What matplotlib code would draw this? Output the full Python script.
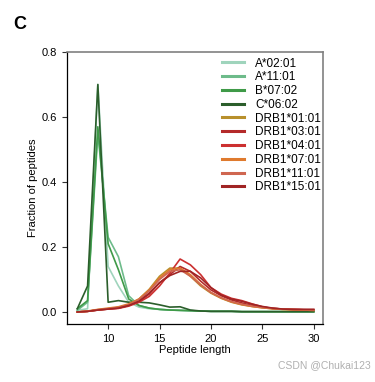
import matplotlib
matplotlib.use("Agg")
import matplotlib.pyplot as plt

plt.rcParams['font.family'] = ['Liberation Sans', 'DejaVu Sans']

lengths = list(range(7, 31))

series_names = ["A*02:01", "A*11:01", "B*07:02", "C*06:02",
                "DRB1*01:01", "DRB1*03:01", "DRB1*04:01", "DRB1*07:01",
                "DRB1*11:01", "DRB1*15:01"]

a0201 = [0.005, 0.01, 0.70, 0.14, 0.08, 0.03, 0.015, 0.01, 0.008, 0.006, 0.005, 0.004, 0.003, 0.002,
         0.002, 0.002, 0.001, 0.001, 0.001, 0.001, 0.001, 0.001, 0.001, 0.001]
a1101 = [0.005, 0.03, 0.55, 0.23, 0.17, 0.05, 0.02, 0.012, 0.008, 0.006, 0.005, 0.004, 0.003, 0.002,
         0.002, 0.002, 0.001, 0.001, 0.001, 0.001, 0.001, 0.001, 0.001, 0.001]
b0702 = [0.01, 0.035, 0.57, 0.21, 0.13, 0.04, 0.02, 0.012, 0.008, 0.006, 0.005, 0.004, 0.003, 0.002,
         0.002, 0.002, 0.001, 0.001, 0.001, 0.001, 0.001, 0.001, 0.001, 0.001]
c0602 = [0.01, 0.08, 0.70, 0.03, 0.035, 0.03, 0.03, 0.028, 0.022, 0.015, 0.016, 0.006, 0.003, 0.002,
         0.002, 0.002, 0.001, 0.001, 0.001, 0.001, 0.001, 0.001, 0.001, 0.001]
drb0101 = [0.0, 0.002, 0.007, 0.01, 0.014, 0.022, 0.04, 0.07, 0.11, 0.135, 0.135, 0.11, 0.08, 0.058,
           0.042, 0.03, 0.022, 0.017, 0.013, 0.01, 0.008, 0.007, 0.006, 0.005]
drb0301 = [0.0, 0.002, 0.006, 0.009, 0.012, 0.02, 0.032, 0.055, 0.09, 0.115, 0.14, 0.125, 0.095, 0.068,
           0.05, 0.037, 0.028, 0.02, 0.015, 0.011, 0.009, 0.008, 0.007, 0.007]
drb0401 = [0.0, 0.002, 0.006, 0.009, 0.011, 0.018, 0.03, 0.048, 0.08, 0.12, 0.163, 0.145, 0.115, 0.075,
           0.055, 0.042, 0.035, 0.025, 0.016, 0.011, 0.009, 0.008, 0.007, 0.007]
drb0701 = [0.0, 0.003, 0.008, 0.012, 0.016, 0.025, 0.04, 0.068, 0.105, 0.13, 0.135, 0.115, 0.085, 0.06,
           0.043, 0.031, 0.023, 0.017, 0.013, 0.01, 0.008, 0.007, 0.006, 0.005]
drb1101 = [0.0, 0.002, 0.007, 0.01, 0.014, 0.022, 0.038, 0.065, 0.1, 0.125, 0.13, 0.11, 0.083, 0.06,
           0.044, 0.032, 0.024, 0.018, 0.014, 0.011, 0.009, 0.008, 0.007, 0.006]
drb1501 = [0.0, 0.002, 0.006, 0.009, 0.012, 0.02, 0.033, 0.058, 0.09, 0.112, 0.125, 0.125, 0.105, 0.075,
           0.052, 0.04, 0.033, 0.024, 0.017, 0.012, 0.009, 0.008, 0.008, 0.008]

series_values = [a0201, a1101, b0702, c0602, drb0101, drb0301, drb0401, drb0701, drb1101, drb1501]
colors = ["#9fd4bc", "#6dbb8a", "#3f9a48", "#2b5e2b",
          "#b8902c", "#b42a2a", "#cc3030", "#df7a2e", "#cf6650", "#a02424"]

xticks = [10, 15, 20, 25, 30]
yticks = [0.0, 0.2, 0.4, 0.6, 0.8]

fig = plt.figure(figsize=(3.75, 3.82), dpi=100)
ax = fig.add_axes([0.1787, 0.1518, 0.6826, 0.7121])

for name, vals, c in zip(series_names, series_values, colors):
    ax.plot(lengths, vals, color=c, lw=1.2, label=name)

ax.set_xlim(6, 30.9)
ax.set_ylim(-0.037, 0.8)
ax.set_xticks(xticks)
ax.set_yticks(yticks)
ax.set_yticklabels([f"{v:.1f}" for v in yticks])
ax.tick_params(labelsize=8, length=3.5, width=0.8, color="#333333")
ax.set_xlabel("Peptide length", fontsize=8, labelpad=1)
ax.set_ylabel("Fraction of peptides", fontsize=8, labelpad=3)

for s in ["left", "bottom"]:
    ax.spines[s].set_color("black")
    ax.spines[s].set_linewidth(0.9)
for s in ["top", "right"]:
    ax.spines[s].set_color("#808080")
    ax.spines[s].set_linewidth(1.2)

leg = ax.legend(loc="upper right", fontsize=8.5, frameon=False, handlelength=1.9,
                handletextpad=0.9, labelspacing=0.15, borderaxespad=0.0,
                bbox_to_anchor=(1.01, 0.997))
for h in leg.get_lines():
    h.set_linewidth(2.2)

fig.text(0.035, 0.925, "C", fontsize=13, fontweight="bold")
fig.text(0.99, 0.03, "CSDN @Chukai123", fontsize=7.5, color="#b0b0b0", ha="right", va="bottom")

fig.savefig("out.png", dpi=100)
